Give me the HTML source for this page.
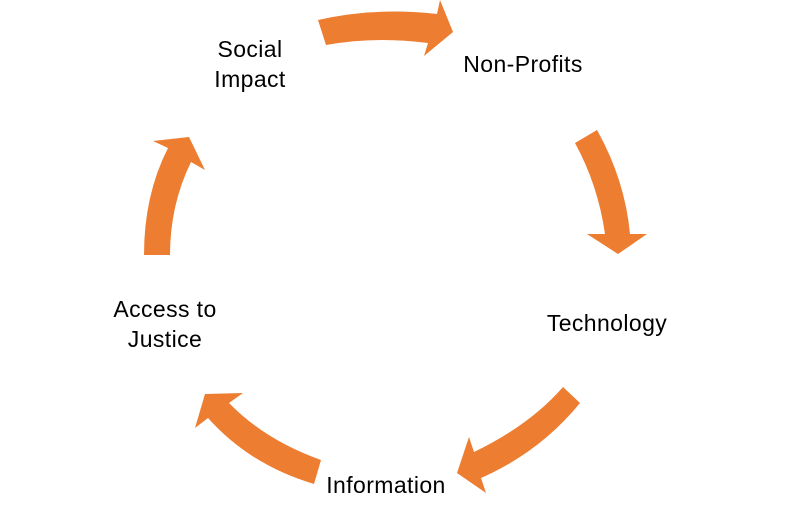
<!DOCTYPE html>
<html><head><style>
body{margin:0;background:#fff;}
svg{display:block}
text{font-family:"Liberation Sans",sans-serif;font-size:23px;letter-spacing:0.4px;fill:#000;text-anchor:middle}
</style></head><body>
<svg width="799" height="529" viewBox="0 0 799 529">
<g fill="#ED7D31">
<path d="M318,20 Q375,7 437,14 L440,0 L453,32 L424,56 L428,43 Q375,36 326,45 Z"/>
<path d="M575,143 L597,130 Q625,180 630,234 L647,234 L618,254 L587,234 L605,234 Q598,185 575,143 Z"/>
<path d="M563,387 L580,403 Q540,452 481,478 L486,493 L457,473 L469,437 L474,452 Q530,425 563,387 Z"/>
<path d="M321,460 L314,484 Q250,465 208,418 L195,428 L205,394 L243,393 L229,403 Q265,440 321,460 Z"/>
<path d="M144,255 L170,255 Q170,205 191,162 L205,170 L189,137 L153,141 L168,148 Q144,195 144,255 Z"/>
</g>
<text x="250" y="57">Social</text>
<text x="250" y="87">Impact</text>
<text x="523" y="72">Non-Profits</text>
<text x="607" y="331">Technology</text>
<text x="165" y="317">Access to</text>
<text x="165" y="347">Justice</text>
<text x="386" y="493">Information</text>
</svg>
</body></html>
